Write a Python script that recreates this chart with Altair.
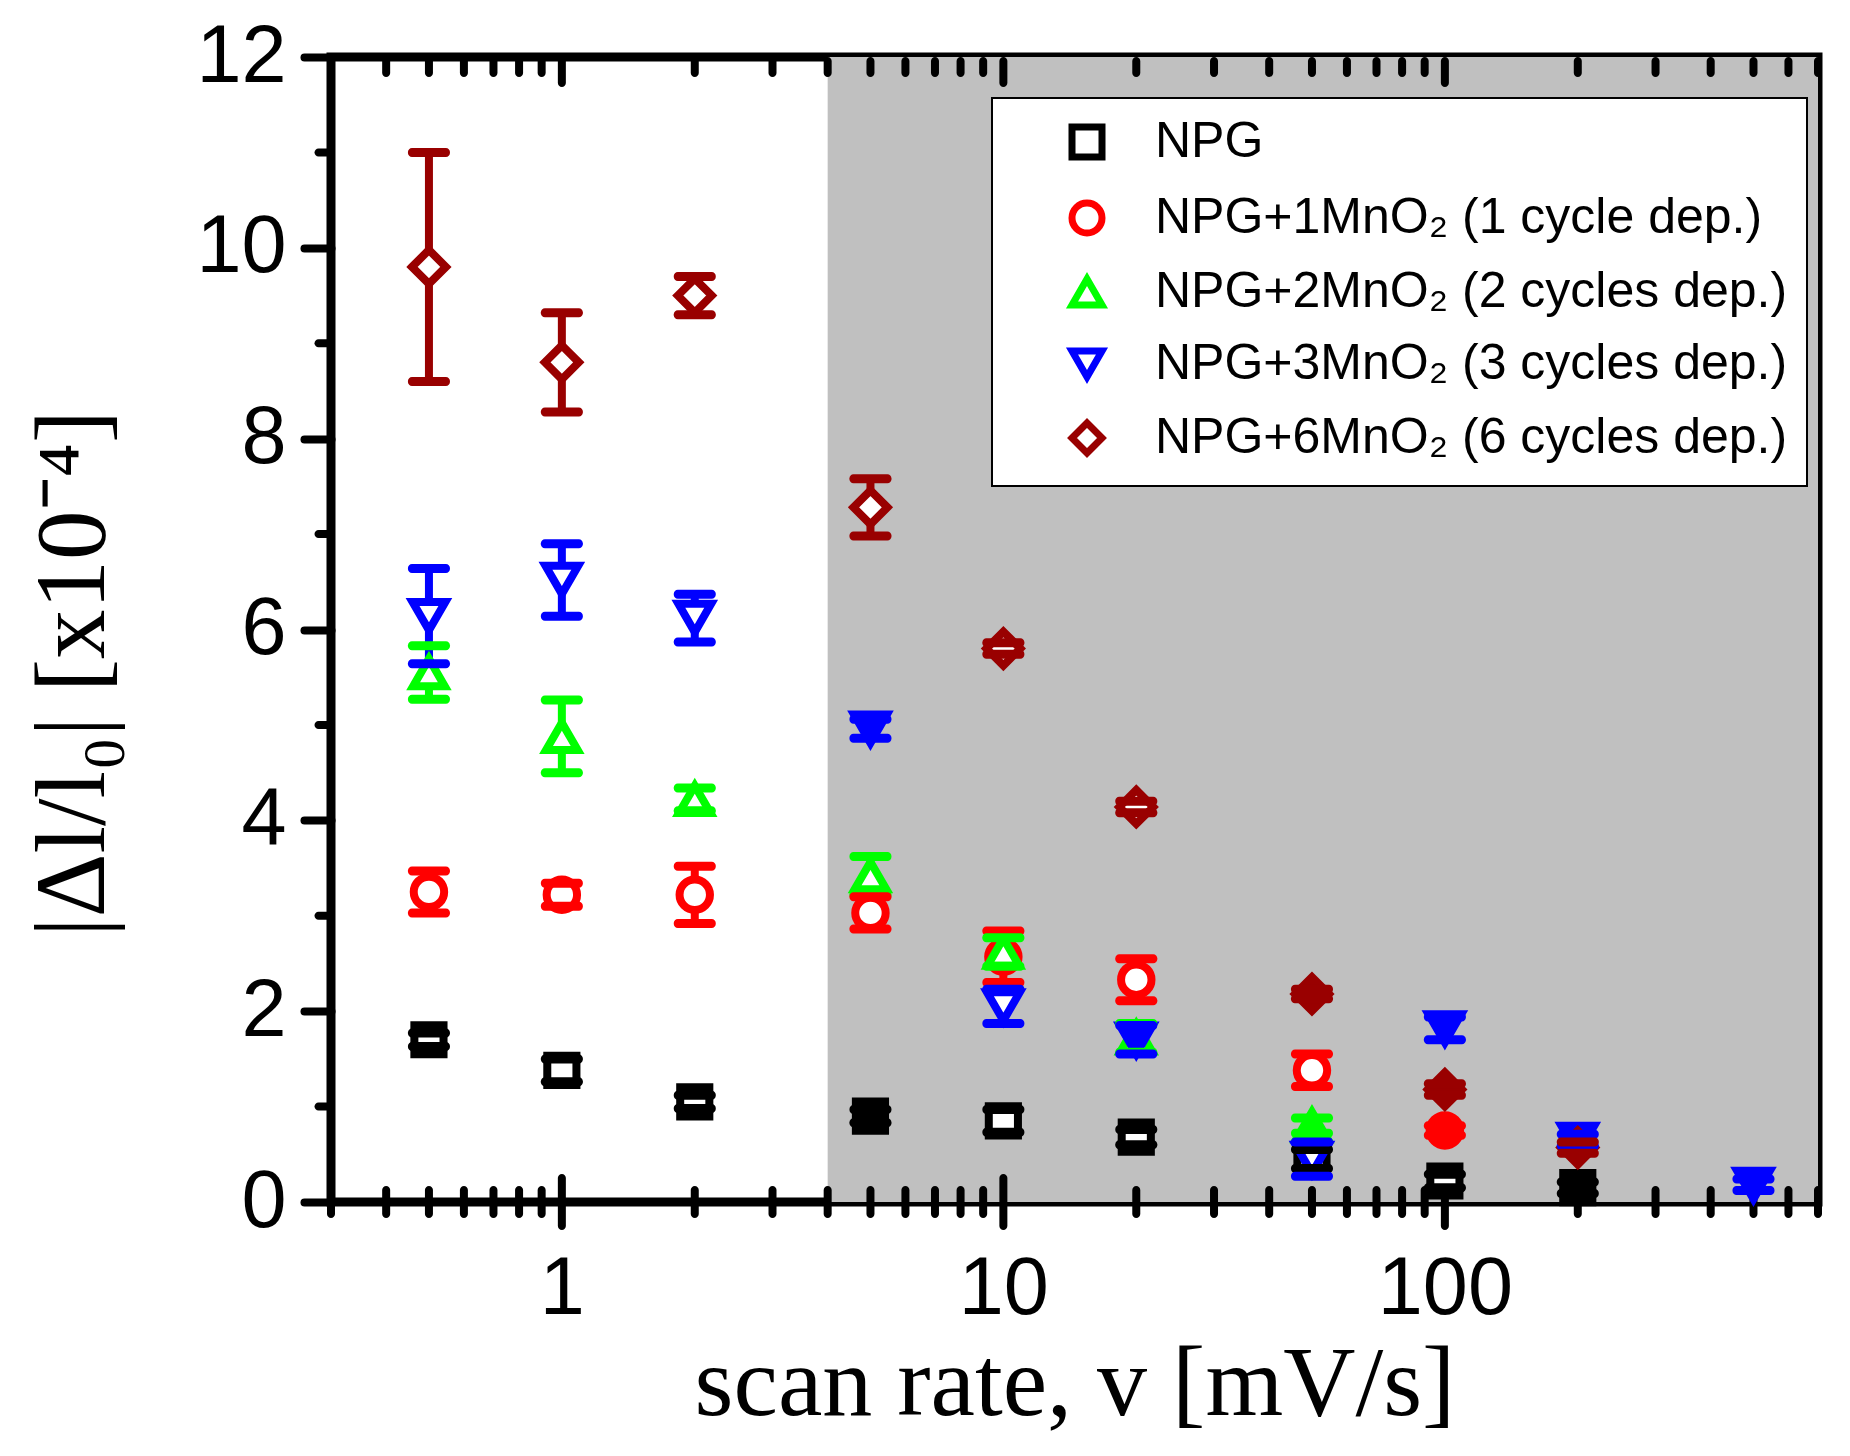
import pandas as pd
import altair as alt

# scan rates [mV/s]
rates = [0.5, 1, 2, 5, 10, 20, 50, 100, 200, 500]

series_names = [
    "NPG",
    "NPG+1MnO₂ (1 cycle dep.)",
    "NPG+2MnO₂ (2 cycles dep.)",
    "NPG+3MnO₂ (3 cycles dep.)",
    "NPG+6MnO₂ (6 cycles dep.)",
]

# |dl/l0| in units of 1e-4, and the error bar half-width
npg = [1.70, 1.38, 1.05, 0.90, 0.85, 0.68, 0.45, 0.22, 0.15, None]
npg_err = [0.07, 0.12, 0.07, 0.07, 0.12, 0.08, 0.10, 0.07, 0.06, None]
mno1 = [3.25, 3.22, 3.22, 3.03, 2.57, 2.33, 1.38, 0.75, None, None]
mno1_err = [0.22, 0.12, 0.30, 0.17, 0.27, 0.22, 0.17, 0.05, None, None]
mno2 = [5.55, 4.88, 4.22, 3.42, 2.62, 1.72, 0.80, None, None, None]
mno2_err = [0.28, 0.38, 0.12, 0.20, 0.15, 0.15, 0.08, None, None, None]
mno3 = [6.14, 6.52, 6.12, 4.96, 2.05, 1.70, 0.45, 1.82, 0.65, 0.18]
mno3_err = [0.50, 0.38, 0.25, 0.10, 0.18, 0.15, 0.18, 0.12, 0.06, 0.06]
mno6 = [9.80, 8.80, 9.50, 7.28, 5.80, 4.14, 2.18, 1.18, 0.57, None]
mno6_err = [1.20, 0.52, 0.20, 0.30, 0.06, 0.06, 0.05, 0.06, 0.06, None]

# rates where the symbol is drawn solid
solid_rates = [[5, 200], [100], [50], [5, 20, 100, 200, 500], [50, 100, 200]]

# shaded (high scan rate) region
shade_from = 4
shade_to = 700

x_major = [1, 10, 100]
x_minor = [0.3, 0.4, 0.5, 0.6, 0.7, 0.8, 0.9,
           2, 3, 4, 5, 6, 7, 8, 9,
           20, 30, 40, 50, 60, 70, 80, 90,
           200, 300, 400, 500, 600, 700]
y_major = [0, 2, 4, 6, 8, 10, 12]
y_minor = [1, 3, 5, 7, 9, 11]

colors = ["#000000", "#ff0000", "#00ff00", "#0000ff", "#990000"]
shapes = ["square", "circle", "triangle-up", "triangle-down", "diamond"]
sizes = [850, 1150, 1800, 1800, 2200]

# build long table
rows = []
all_vals = [npg, mno1, mno2, mno3, mno6]
all_errs = [npg_err, mno1_err, mno2_err, mno3_err, mno6_err]
for name, shp, vals, errs, solid in zip(series_names, shapes, all_vals, all_errs, solid_rates):
    for r, v, e in zip(rates, vals, errs):
        if v is None:
            continue
        rows.append({"series": name, "marker": shp, "rate": r, "value": v,
                     "lo": v - e, "hi": v + e, "solid": r in solid})
df = pd.DataFrame(rows)
caps = pd.concat([df.assign(cap=df["lo"]), df.assign(cap=df["hi"])])

x_scale = alt.Scale(type="log", domain=[0.3, 700], nice=False)
y_scale = alt.Scale(domain=[0, 12], nice=False, zero=False)
color_scale = alt.Scale(domain=series_names, range=colors)
shape_scale = alt.Scale(domain=series_names, range=shapes)
# error bars, solid fills and sizes keyed on the marker name so they stay out of the legend
marker_color_scale = alt.Scale(domain=shapes, range=colors)
size_scale = alt.Scale(domain=shapes, range=sizes)

x_axis = alt.Axis(
    values=x_major, format="d", ticks=False, domain=False, grid=False,
    labelFont="Liberation Sans", labelFontSize=81, labelPadding=47,
    labelColor="black", labelFlush=False,
    title="scan rate, v [mV/s]", titleFont="Liberation Serif",
    titleFontSize=100, titleFontWeight="normal", titleColor="black",
    titleY=212, titleBaseline="alphabetic")
y_axis = alt.Axis(
    values=y_major, tickSize=27, tickWidth=8, tickColor="black",
    tickCap="round", domain=False, grid=False,
    labelFont="Liberation Sans", labelFontSize=81, labelPadding=18,
    labelColor="black", labelOverlap=False,
    title="|Δl/l₀|  [x10⁻⁴]", titleFont="Liberation Serif",
    titleFontSize=99, titleFontWeight="normal", titleColor="black",
    titleAngle=270, titleX=-228, titleY=616, titleAlign="center",
    titleBaseline="alphabetic")

legend = alt.Legend(
    orient="none", legendX=661, legendY=41,
    fillColor="white", strokeColor="black",
    padding=19, rowPadding=18, symbolOffset=51, labelOffset=43,
    symbolSize=900, symbolStrokeWidth=7, symbolFillColor="white",
    labelFont="Liberation Sans", labelFontSize=50, labelColor="black",
    labelLimit=1000,
)

shade = alt.Chart(pd.DataFrame({"x0": [shade_from], "x1": [shade_to],
                                "y0": [0], "y1": [12]})).mark_rect(color="#c0c0c0").encode(
    x=alt.X("x0:Q", scale=x_scale, axis=x_axis),
    x2="x1:Q",
    y=alt.Y("y0:Q", scale=y_scale, axis=y_axis),
    y2="y1:Q",
)

# x ticks crossing the bottom axis, inward ticks on the top axis
minor_df = pd.DataFrame({"v": x_minor})
major_df = pd.DataFrame({"v": x_major})
tick_style = dict(thickness=8, color="black", cornerRadius=4, opacity=1)
bottom_minor = alt.Chart(minor_df).mark_tick(orient="vertical", size=32, **tick_style).encode(
    x=alt.X("v:Q", axis=x_axis), y=alt.YDatum(0, axis=y_axis))
bottom_major = alt.Chart(major_df).mark_tick(orient="vertical", size=56, **tick_style).encode(
    x=alt.X("v:Q", axis=x_axis), y=alt.YDatum(0, axis=y_axis))
top_minor = alt.Chart(minor_df).mark_tick(orient="vertical", size=20, yOffset=10, **tick_style).encode(
    x=alt.X("v:Q", axis=x_axis), y=alt.YDatum(12, axis=y_axis))
top_major = alt.Chart(major_df).mark_tick(orient="vertical", size=30, yOffset=15, **tick_style).encode(
    x=alt.X("v:Q", axis=x_axis), y=alt.YDatum(12, axis=y_axis))
# minor ticks on the left axis
left_minor = alt.Chart(pd.DataFrame({"v": y_minor})).mark_tick(
    orient="horizontal", size=17, xOffset=-8, **tick_style
).encode(x=alt.XDatum(0.3, axis=x_axis), y=alt.Y("v:Q", axis=y_axis))

stems = alt.Chart(df).mark_rule(strokeWidth=8, opacity=1).encode(
    x=alt.X("rate:Q", axis=x_axis),
    y=alt.Y("lo:Q", axis=y_axis),
    y2="hi:Q",
    stroke=alt.Stroke("marker:N", scale=marker_color_scale, legend=None),
)

# open symbols (white inside), solid where the point is flagged solid
points = alt.Chart(df).mark_point(filled=False, strokeWidth=8, opacity=1).encode(
    x=alt.X("rate:Q", axis=x_axis),
    y=alt.Y("value:Q", axis=y_axis),
    color=alt.Color("series:N", scale=color_scale, title=None, legend=legend),
    shape=alt.Shape("series:N", scale=shape_scale, title=None, legend=legend),
    size=alt.Size("marker:N", scale=size_scale, legend=None),
    fill=alt.condition(
        "datum.solid",
        alt.Fill("marker:N", scale=marker_color_scale, legend=None),
        alt.value("white"),
    ),
)

cap_marks = alt.Chart(caps).mark_tick(orient="horizontal", size=42, thickness=9,
                                      cornerRadius=4, opacity=1).encode(
    x=alt.X("rate:Q", axis=x_axis),
    y=alt.Y("cap:Q", axis=y_axis),
    fill=alt.Fill("marker:N", scale=marker_color_scale, legend=None),
)

chart = alt.layer(
    shade, bottom_minor, bottom_major, top_minor, top_major, left_minor,
    stems, points, cap_marks
).properties(
    width=1487,
    height=1145,
    padding={"left": 323, "top": 49, "right": 24, "bottom": 246},
    autosize=alt.AutoSizeParams(type="none"),
    background="white",
).configure_view(
    stroke="black",
    strokeWidth=9,
).configure_axis(
    grid=False,
).configure_legend(
    strokeWidth=2,
)

chart.save("out.html", embed_options={"renderer": "svg", "actions": False})
